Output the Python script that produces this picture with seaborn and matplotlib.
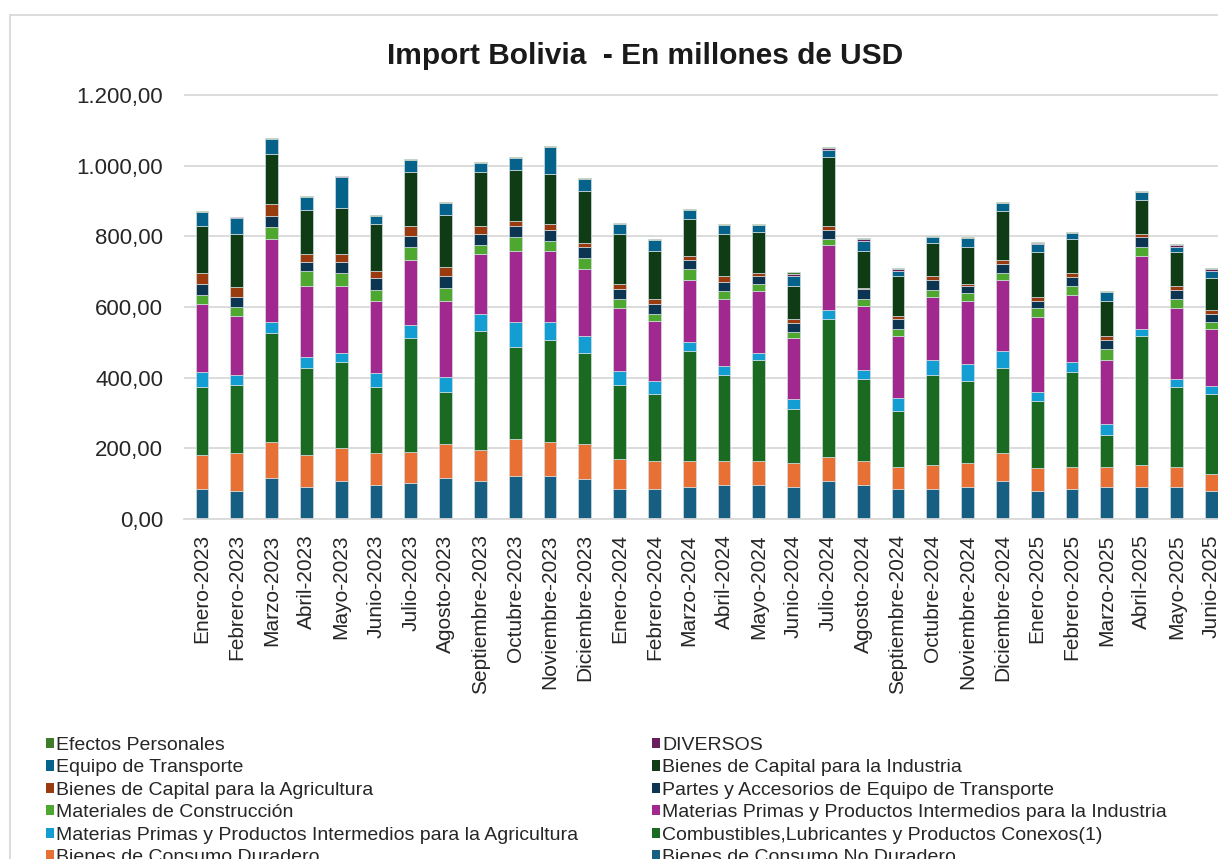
import pandas as pd
import matplotlib.pyplot as plt
import seaborn as sns
from matplotlib.patches import Patch, Rectangle
from matplotlib.ticker import FuncFormatter


meses = ['Enero-2023', 'Febrero-2023', 'Marzo-2023', 'Abril-2023', 'Mayo-2023', 'Junio-2023',
         'Julio-2023', 'Agosto-2023', 'Septiembre-2023', 'Octubre-2023', 'Noviembre-2023', 'Diciembre-2023',
         'Enero-2024', 'Febrero-2024', 'Marzo-2024', 'Abril-2024', 'Mayo-2024', 'Junio-2024',
         'Julio-2024', 'Agosto-2024', 'Septiembre-2024', 'Octubre-2024', 'Noviembre-2024', 'Diciembre-2024',
         'Enero-2025', 'Febrero-2025', 'Marzo-2025', 'Abril-2025', 'Mayo-2025', 'Junio-2025']

# millones de USD, de abajo hacia arriba en cada barra
consumo_no_duradero = [86, 80, 117, 90.5, 106.5, 96, 101, 117, 106.5, 122.5, 122.5, 112,
                       86, 86, 90.5, 96, 96, 90.5, 106.5, 96, 86, 86, 90.5, 106.5,
                       80, 86, 90.5, 90.5, 90.5, 80]
consumo_duradero = [94, 106, 100, 89.5, 95.5, 90, 89.5, 95, 89.5, 104.5, 94.5, 100,
                    84, 78, 73.5, 68, 68, 68.5, 68, 68, 62, 68, 68.5, 79.5,
                    63, 62, 57.5, 63.5, 57.5, 47]
combustibles = [194.5, 194, 310, 248, 241, 188.5, 321.5, 147, 337, 259, 289.5, 258,
                210, 190, 311.5, 242.5, 285, 153, 390.5, 232, 158.5, 252.5, 231.5, 242,
                190, 269, 90, 364, 226.5, 227]
mp_agricultura = [42.5, 27, 32, 31, 28, 37.5, 38, 42, 48, 73, 52.5, 48,
                  38, 37.5, 26.5, 26.5, 21, 27, 26.5, 26.5, 36.5, 42.5, 48, 47.5,
                  26, 26, 32, 21, 21.5, 21.5]
mp_industria = [190.5, 168.5, 232.5, 201, 189, 206, 184, 217, 168, 200, 200, 189.5,
                179, 168.5, 173.5, 189.5, 174, 173, 184, 179.5, 175, 179, 179.5, 200,
                212, 190, 179, 205, 200, 163.5]
mat_construccion = [25.5, 25.5, 35.5, 42, 36, 31, 37, 37, 26.5, 38, 27, 31.5,
                    26.5, 21, 31, 21.5, 21, 16, 16, 20.5, 21, 21, 21, 20.5,
                    25, 27, 31, 27, 26.5, 20]
partes_transporte = [32, 27, 32, 26, 32, 32, 31, 32, 32, 31, 32, 32,
                     26.5, 26.5, 27.5, 27, 22, 27, 26.5, 27.5, 26, 26.5, 21, 26.5,
                     22, 26, 27.5, 26, 26.5, 22]
capital_agricultura = [31, 28, 33, 21, 21, 21, 26, 25, 20.5, 16, 16, 10,
                       15, 16, 10, 16, 10, 10, 10, 5, 10.5, 11.5, 5, 11.5,
                       10, 10, 9.5, 10.5, 11, 10.5]
capital_industria = [132, 151.5, 142, 127, 132, 132, 153, 148, 153, 143, 142, 147,
                     142.5, 136.5, 105, 120.5, 116, 95, 195.5, 105, 111.5, 94, 106, 137,
                     127, 95.5, 101, 95.5, 95, 89.5]
equipo_transporte = [40, 45.5, 40.5, 35, 88, 23.5, 35, 35, 27.5, 34, 76, 35,
                     26.5, 29, 24.5, 23.5, 18, 27, 20.5, 26, 15, 18, 23, 24,
                     23, 18.5, 23.5, 23, 16, 21]
diversos = [0.5, 0.5, 0.5, 0.5, 0.5, 0.5, 0.5, 0.5, 0.5, 0.5, 0.5, 0.5,
            0.5, 0.5, 0.5, 0.5, 0.5, 7, 6, 5.5, 5.5, 0.5, 0.5, 0.5,
            3, 0.5, 0.5, 0.5, 4.5, 5.5]
efectos_personales = [3, 2.5, 2.5, 2.5, 2.5, 2.5, 2.5, 2.5, 2.5, 2.5, 2.5, 2.5,
                      2.5, 2.5, 2.5, 2.5, 2.5, 4, 4, 2.5, 3.5, 2.5, 2.5, 2.5,
                      2, 2.5, 2, 2.5, 2.5, 3.5]

series = {
    'Bienes de Consumo No Duradero': consumo_no_duradero,
    'Bienes de Consumo Duradero': consumo_duradero,
    'Combustibles,Lubricantes y Productos Conexos(1)': combustibles,
    'Materias Primas y Productos Intermedios para la Agricultura': mp_agricultura,
    'Materias Primas y Productos Intermedios para la Industria': mp_industria,
    'Materiales de Construcción': mat_construccion,
    'Partes y Accesorios de Equipo de Transporte': partes_transporte,
    'Bienes de Capital para la Agricultura': capital_agricultura,
    'Bienes de Capital para la Industria': capital_industria,
    'Equipo de Transporte': equipo_transporte,
    'DIVERSOS': diversos,
    'Efectos Personales': efectos_personales,
}

colores = {
    'Bienes de Consumo No Duradero': '#165f82',
    'Bienes de Consumo Duradero': '#e87034',
    'Combustibles,Lubricantes y Productos Conexos(1)': '#1b6a22',
    'Materias Primas y Productos Intermedios para la Agricultura': '#129dd3',
    'Materias Primas y Productos Intermedios para la Industria': '#a0288f',
    'Materiales de Construcción': '#4ea72f',
    'Partes y Accesorios de Equipo de Transporte': '#0b3550',
    'Bienes de Capital para la Agricultura': '#9a3a0f',
    'Bienes de Capital para la Industria': '#0f3b15',
    'Equipo de Transporte': '#05628a',
    'DIVERSOS': '#6a1b5c',
    'Efectos Personales': '#3d7d2a',
}

filas = []
for cat, vals in series.items():
    for i, v in enumerate(vals):
        filas.append({'mes': i, 'categoria': cat, 'valor': v})
df = pd.DataFrame(filas)

sns.set_theme(style='white')
plt.rcParams['font.family'] = ['Liberation Sans', 'DejaVu Sans']

W, H = 1218, 859
fig = plt.figure(figsize=(W / 100, H / 100), dpi=100)
ax = fig.add_axes([184 / W, 1 - 519 / H, 1 - 184 / W + 0.01, (519 - 94) / H])

orden = list(series.keys())[::-1]  # arriba -> abajo
sns.histplot(data=df, x='mes', weights='valor', hue='categoria', hue_order=orden,
             multiple='stack', discrete=True, shrink=0.37, palette=colores, alpha=1,
             edgecolor='#d4dde0', linewidth=0.5, legend=False, ax=ax)

ax.set_xlim(-0.517, 29.195 + 0.01 * W / 34.8)
ax.set_ylim(0, 1203)
ax.set_yticks(range(0, 1201, 200))
ax.yaxis.set_major_formatter(FuncFormatter(
    lambda v, p: f'{v:,.2f}'.replace(',', 'X').replace('.', ',').replace('X', '.')))
ax.set_xticks(range(len(meses)))
ax.set_xticklabels(meses, rotation=90)
ax.tick_params(axis='x', length=0, pad=11, labelsize=15, labelcolor='#262626')
ax.tick_params(axis='y', length=0, pad=15, labelsize=16, labelcolor='#262626')
ax.set_xlabel('')
ax.set_ylabel('')
ax.grid(axis='y', color='#d9d9d9', linewidth=1.3)
ax.set_axisbelow(True)
for s in ['top', 'right', 'left']:
    ax.spines[s].set_visible(False)
ax.spines['bottom'].set_color('#d9d9d9')
ax.spines['bottom'].set_linewidth(1.3)

fig.text(645 / W, 1 - 56 / H, 'Import Bolivia  - En millones de USD', ha='center', va='center',
         fontsize=21.5, fontweight='bold', color='#1a1a1a')

# marco del area del grafico
fig.patches.append(Rectangle((10 / W, -0.1), 1.2, 1.1 - 15 / H, transform=fig.transFigure,
                             fill=False, edgecolor='#d9d9d9', linewidth=1.3))

izq = ['Efectos Personales', 'Equipo de Transporte', 'Bienes de Capital para la Agricultura',
       'Materiales de Construcción', 'Materias Primas y Productos Intermedios para la Agricultura',
       'Bienes de Consumo Duradero']
der = ['DIVERSOS', 'Bienes de Capital para la Industria', 'Partes y Accesorios de Equipo de Transporte',
       'Materias Primas y Productos Intermedios para la Industria',
       'Combustibles,Lubricantes y Productos Conexos(1)', 'Bienes de Consumo No Duradero']

for nombres, x0 in [(izq, 45.5), (der, 652)]:
    handles = [Patch(facecolor=colores[n], edgecolor='none') for n in nombres]
    fig.legend(handles, nombres, loc='upper left', bbox_to_anchor=(x0 / W, 1 - 737 / H),
               frameon=False, fontsize=14, handlelength=0.42, handleheight=0.42,
               handletextpad=0.12, labelspacing=0.28, borderpad=0, borderaxespad=0,
               labelcolor='#262626')

fig.savefig('out.png', dpi=100)
